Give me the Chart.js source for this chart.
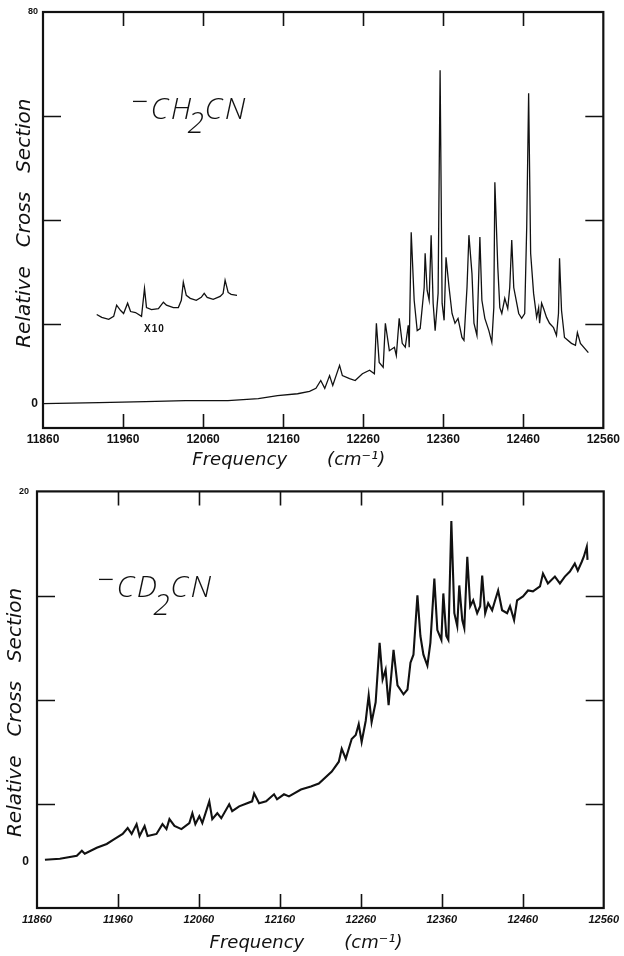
<!DOCTYPE html>
<html><head><meta charset="utf-8">
<script src="https://cdn.jsdelivr.net/npm/chart.js@4/dist/chart.umd.min.js"></script>
<style>
html,body{margin:0;padding:0;background:#fff;}
#wrap{position:relative;width:624px;height:956px;overflow:hidden;background:#fff;}
canvas{position:absolute;left:0;}
.lab{position:absolute;font-family:"Open Sans","DejaVu Sans",sans-serif;font-weight:300;font-style:italic;color:#111;white-space:nowrap;line-height:1;font-size:30px;letter-spacing:2.5px;}
.lab .m{display:inline-block;transform:translateY(-0.25em);margin-right:0px;}
.lab .s{display:inline-block;margin-left:-6px;margin-right:-2px;}
.x10{position:absolute;font-family:"Liberation Sans",sans-serif;font-weight:bold;font-size:10px;color:#111;letter-spacing:1px;}
</style></head><body>
<div id="wrap">
<canvas id="c1" width="624" height="478" style="top:0"></canvas>
<canvas id="c2" width="624" height="478" style="top:478px"></canvas>
<div class="lab" style="left:131px;top:93px;"><span class="m">−</span>CH<span class="s" style="transform:translateY(0.45em)">2</span>CN</div>
<div class="lab" style="left:97px;top:571px;"><span class="m">−</span>CD<span class="s" style="transform:translateY(0.6em)">2</span>CN</div>
<div class="x10" style="left:144px;top:323px;">X10</div>
</div>
<script>
// ---------- data ----------
const xTickLabels = [11860, 11960, 12060, 12160, 12260, 12360, 12460, 12560];
const chYTicks = [-5, 0, 16.25, 37.5, 58.75, 80];
const chYLabels = ['', '0', '', '', '', '80'];
const cdYTicks = [-2.5, 0, 3.125, 8.75, 14.375, 20];
const cdYLabels = ['', '0', '', '', '', '20'];

// -CH2CN spectrum
const chFreq = [
 11860, 11930, 11988, 12038, 12091, 12129, 12153, 12178, 12193, 12201,
 12207, 12212, 12218, 12222, 12230.5, 12234, 12243, 12250, 12259, 12268,
 12274, 12276.5, 12280, 12285, 12287.7, 12292.7, 12299, 12301.4, 12305, 12308.8,
 12312.6, 12316.3, 12317.5, 12320, 12323.7, 12327.5, 12331.2, 12336.2, 12337.4, 12339.9,
 12342.4, 12344.9, 12347.4, 12349.9, 12353.6, 12356.1, 12358.6, 12361.1, 12363.5, 12367.3,
 12371, 12374.7, 12378.5, 12383.4, 12385.9, 12389.7, 12392.1, 12395.9, 12398.4, 12402.1,
 12405.8, 12408.3, 12412, 12417, 12420.7, 12423.2, 12424.5, 12428.2, 12430.7, 12433.2,
 12436.9, 12440.6, 12443.1, 12445.6, 12448.1, 12454.3, 12458, 12461.8, 12464.3, 12466.7,
 12469.2, 12472.9, 12476.7, 12479.2, 12480.4, 12482.9, 12485.4, 12489.1, 12492.8, 12497.8,
 12501.5, 12504, 12505.3, 12507.8, 12511.5, 12520.2, 12525.2, 12527.6, 12531.4, 12541.3
];
const chSignal = [
 0, 0.2, 0.4, 0.6, 0.6, 1.0, 1.6, 2.0, 2.5, 3.1,
 4.7, 3.1, 5.7, 3.7, 7.8, 5.7, 5.1, 4.7, 6.1, 6.8,
 6.1, 16.4, 8.4, 7.4, 16.4, 10.8, 11.5, 9.8, 17.4, 12.3,
 11.5, 16.0, 11.5, 35.0, 21.1, 14.9, 15.3, 23.7, 30.7, 23.1,
 21.1, 34.4, 20.5, 14.9, 22.5, 68.1, 20.5, 17.0, 29.9, 23.7,
 18.4, 16.4, 17.4, 13.5, 12.9, 23.7, 34.4, 26.6, 16.4, 13.9,
 34.0, 21.1, 17.4, 14.9, 12.5, 19.6, 45.2, 27.8, 19.6, 18.4,
 21.5, 19.4, 23.7, 33.4, 23.7, 18.4, 17.4, 18.4, 36.0, 63.4,
 30.7, 22.5, 17.6, 19.6, 16.4, 20.5, 19.4, 17.6, 16.4, 15.5,
 13.9, 18.4, 29.7, 19.0, 13.5, 12.3, 11.9, 14.5, 12.3, 10.4
];

// -CH2CN x10 expanded trace (as plotted, offset)
const chInsetFreq = [
 11927.1, 11933.4, 11942.1, 11948.3, 11952.0, 11957.0, 11960.7, 11965.7, 11969.4, 11975.6,
 11983.1, 11986.8, 11989.3, 11995.5, 12004.2, 12010.4, 12014.2, 12022.9, 12029.1, 12032.8,
 12035.3, 12039.0, 12044.0, 12051.5, 12057.7, 12061.4, 12065.1, 12072.6, 12081.3, 12085.0,
 12087.5, 12091.3, 12095.0, 12102.4
];
const chInsetSignal = [
 18.2, 17.6, 17.2, 17.8, 20.1, 19.0, 18.4, 20.5, 18.8, 18.6,
 17.8, 23.5, 19.6, 19.2, 19.4, 20.7, 20.1, 19.6, 19.6, 21.1,
 24.8, 22.1, 21.5, 21.1, 21.7, 22.5, 21.7, 21.3, 21.9, 22.5,
 25.2, 22.7, 22.3, 22.1
];

// -CD2CN spectrum
const cdFreq = [
 11869.8, 11888.3, 11909.2, 11915.4, 11919.0, 11933.8, 11946.1, 11956.0, 11965.8, 11972.0,
 11976.9, 11983.0, 11986.7, 11992.9, 11996.6, 12007.6, 12015.0, 12019.9, 12023.6, 12029.8,
 12038.4, 12048.2, 12051.9, 12055.6, 12060.5, 12064.2, 12072.8, 12076.5, 12082.7, 12087.6,
 12097.4, 12101.1, 12109.7, 12125.7, 12128.2, 12134.3, 12143.0, 12152.8, 12156.5, 12165.1,
 12171.2, 12186.0, 12198.3, 12208.1, 12224.1, 12232.8, 12236.4, 12241.4, 12248.7, 12253.7,
 12257.4, 12261.0, 12266.0, 12269.7, 12273.3, 12278.3, 12283.2, 12286.9, 12290.6, 12294.3,
 12300.4, 12305.3, 12312.7, 12317.6, 12321.3, 12325.0, 12329.9, 12333.6, 12337.3, 12342.2,
 12345.9, 12350.8, 12354.5, 12359.5, 12361.9, 12365.6, 12368.1, 12371.8, 12375.5, 12379.1,
 12381.6, 12385.3, 12387.8, 12391.5, 12395.1, 12398.8, 12403.7, 12407.4, 12409.9, 12413.6,
 12417.3, 12422.2, 12425.9, 12429.6, 12434.5, 12440.7, 12444.3, 12449.3, 12453.0, 12460.3,
 12466.5, 12472.6, 12481.3, 12485.0, 12491.1, 12499.7, 12505.9, 12512.0, 12518.2, 12524.3,
 12528.0, 12532.9, 12535.4, 12539.1, 12540.0
];
const cdSignal = [
 0.11, 0.16, 0.32, 0.59, 0.43, 0.75, 0.96, 1.23, 1.50, 1.82,
 1.50, 2.03, 1.39, 1.93, 1.39, 1.50, 2.03, 1.76, 2.30, 1.93,
 1.76, 2.09, 2.62, 2.03, 2.46, 2.09, 3.26, 2.30, 2.62, 2.35,
 3.10, 2.73, 2.99, 3.26, 3.69, 3.16, 3.26, 3.64, 3.37, 3.64,
 3.53, 3.90, 4.06, 4.22, 4.87, 5.40, 6.10, 5.56, 6.63, 6.84,
 7.43, 6.47, 7.60, 8.98, 7.54, 8.61, 11.82, 9.84, 10.37, 8.45,
 11.44, 9.52, 9.04, 9.30, 10.75, 11.18, 14.39, 12.19, 11.18, 10.59,
 11.82, 15.29, 12.51, 11.98, 14.49, 12.19, 11.98, 18.40, 13.42, 12.73,
 14.92, 13.05, 12.62, 16.47, 13.80, 14.12, 13.42, 13.80, 15.45, 13.42,
 13.96, 13.58, 14.12, 14.65, 13.58, 13.42, 13.80, 13.05, 14.12, 14.33,
 14.65, 14.60, 14.87, 15.56, 15.03, 15.40, 15.03, 15.40, 15.67, 16.10,
 15.72, 16.20, 16.47, 17.01, 16.30
];

// ---------- drawing ----------
const INK = '#111';
const zip = (xs, ys) => xs.map((x, i) => ({x: x, y: ys[i]}));

const framePlugin = {
  id: 'frame',
  afterDatasetsDraw(chart, args, o) {
    const {ctx, chartArea: a, scales: {x, y}} = chart;
    ctx.save();
    ctx.strokeStyle = INK;
    ctx.lineWidth = 1.6;
    ctx.beginPath();
    xTickLabels.slice(1, -1).forEach(v => {
      const px = Math.round(x.getPixelForValue(v)) + 0.5;
      ctx.moveTo(px, a.bottom); ctx.lineTo(px, a.bottom - o.len);
      ctx.moveTo(px, a.top); ctx.lineTo(px, a.top + o.len);
    });
    o.yMarks.forEach(v => {
      const py = Math.round(y.getPixelForValue(v)) + 0.5;
      ctx.moveTo(a.left, py); ctx.lineTo(a.left + o.lenY, py);
      ctx.moveTo(a.right, py); ctx.lineTo(a.right - o.lenY, py);
    });
    ctx.stroke();
    ctx.lineWidth = 2.2;
    ctx.strokeRect(a.left, a.top, a.right - a.left, a.bottom - a.top);
    ctx.restore();
  }
};

function makeChart(id, cfg) {
  return new Chart(document.getElementById(id), {
    type: 'line',
    data: {datasets: cfg.datasets},
    options: {
      responsive: false, animation: false, events: [],
      layout: {padding: cfg.padding},
      plugins: {legend: {display: false}, tooltip: {enabled: false}, frame: {len: 14, lenY: 18, yMarks: cfg.yMarks}},
      elements: {point: {radius: 0}, line: {tension: 0}},
      scales: {
        x: {
          type: 'linear', min: 11860, max: 12560,
          afterBuildTicks: s => { s.ticks = xTickLabels.map(v => ({value: v})); },
          afterFit: s => { s.height = cfg.xHeight; },
          grid: {display: false, drawTicks: false}, border: {display: false},
          ticks: {color: INK, maxRotation: 0, autoSkip: false, padding: cfg.xPad, font: cfg.xFont, callback: v => String(v)},
          title: {display: true, text: cfg.xTitle, color: INK, padding: {top: 0, bottom: cfg.xTitlePad},
                  font: {family: 'DejaVu Sans', style: 'italic', size: 18}}
        },
        y: {
          type: 'linear', min: cfg.yTicks[0], max: cfg.yTicks[cfg.yTicks.length - 1],
          afterBuildTicks: s => { s.ticks = cfg.yTicks.map(v => ({value: v})); },
          afterFit: s => { s.width = cfg.yWidth; },
          grid: {display: false, drawTicks: false}, border: {display: false},
          ticks: {color: INK, padding: cfg.yPad, autoSkip: false,
                  font: c => (c.tick && c.tick.value === cfg.yTicks[cfg.yTicks.length - 1]) ? {family: 'Liberation Sans', weight: 'bold', size: 9} : {family: 'Liberation Sans', weight: 'bold', size: 12},
                  callback: (v, i) => cfg.yLabels[i]},
          title: {display: true, text: cfg.yTitle, color: INK, padding: {top: cfg.yTitlePad, bottom: 0},
                  font: {family: 'DejaVu Sans', style: 'italic', size: 20}}
        }
      }
    },
    plugins: [framePlugin]
  });
}

makeChart('c1', {
  datasets: [
    {data: zip(chFreq, chSignal), borderColor: INK, borderWidth: 1.3},
    {data: zip(chInsetFreq, chInsetSignal), borderColor: INK, borderWidth: 1.3}
  ],
  padding: {left: 0, top: 12, right: 17, bottom: 0},
  xHeight: 50, yWidth: 43, xPad: 4, yPad: 5, xTitlePad: 7, yTitlePad: 13,
  xFont: {family: 'Liberation Sans', weight: 'bold', size: 12},
  yTicks: chYTicks, yLabels: chYLabels, yMarks: chYTicks.slice(2, -1),
  xTitle: 'Frequency       (cm\u207B\u00B9)            ',
  yTitle: 'Relative   Cross   Section '
});

makeChart('c2', {
  datasets: [
    {data: zip(cdFreq, cdSignal), borderColor: INK, borderWidth: 2.1}
  ],
  padding: {left: 0, top: 9, right: 18, bottom: 0},
  xHeight: 48, yWidth: 37, xPad: 5, yPad: 8, xTitlePad: 2, yTitlePad: 4,
  xFont: {family: 'Liberation Sans', weight: 'bold', style: 'italic', size: 11},
  yTicks: cdYTicks, yLabels: cdYLabels, yMarks: cdYTicks.slice(2, -1),
  xTitle: 'Frequency       (cm\u207B\u00B9)     ',
  yTitle: 'Relative   Cross   Section    '
});
</script>
</body></html>
